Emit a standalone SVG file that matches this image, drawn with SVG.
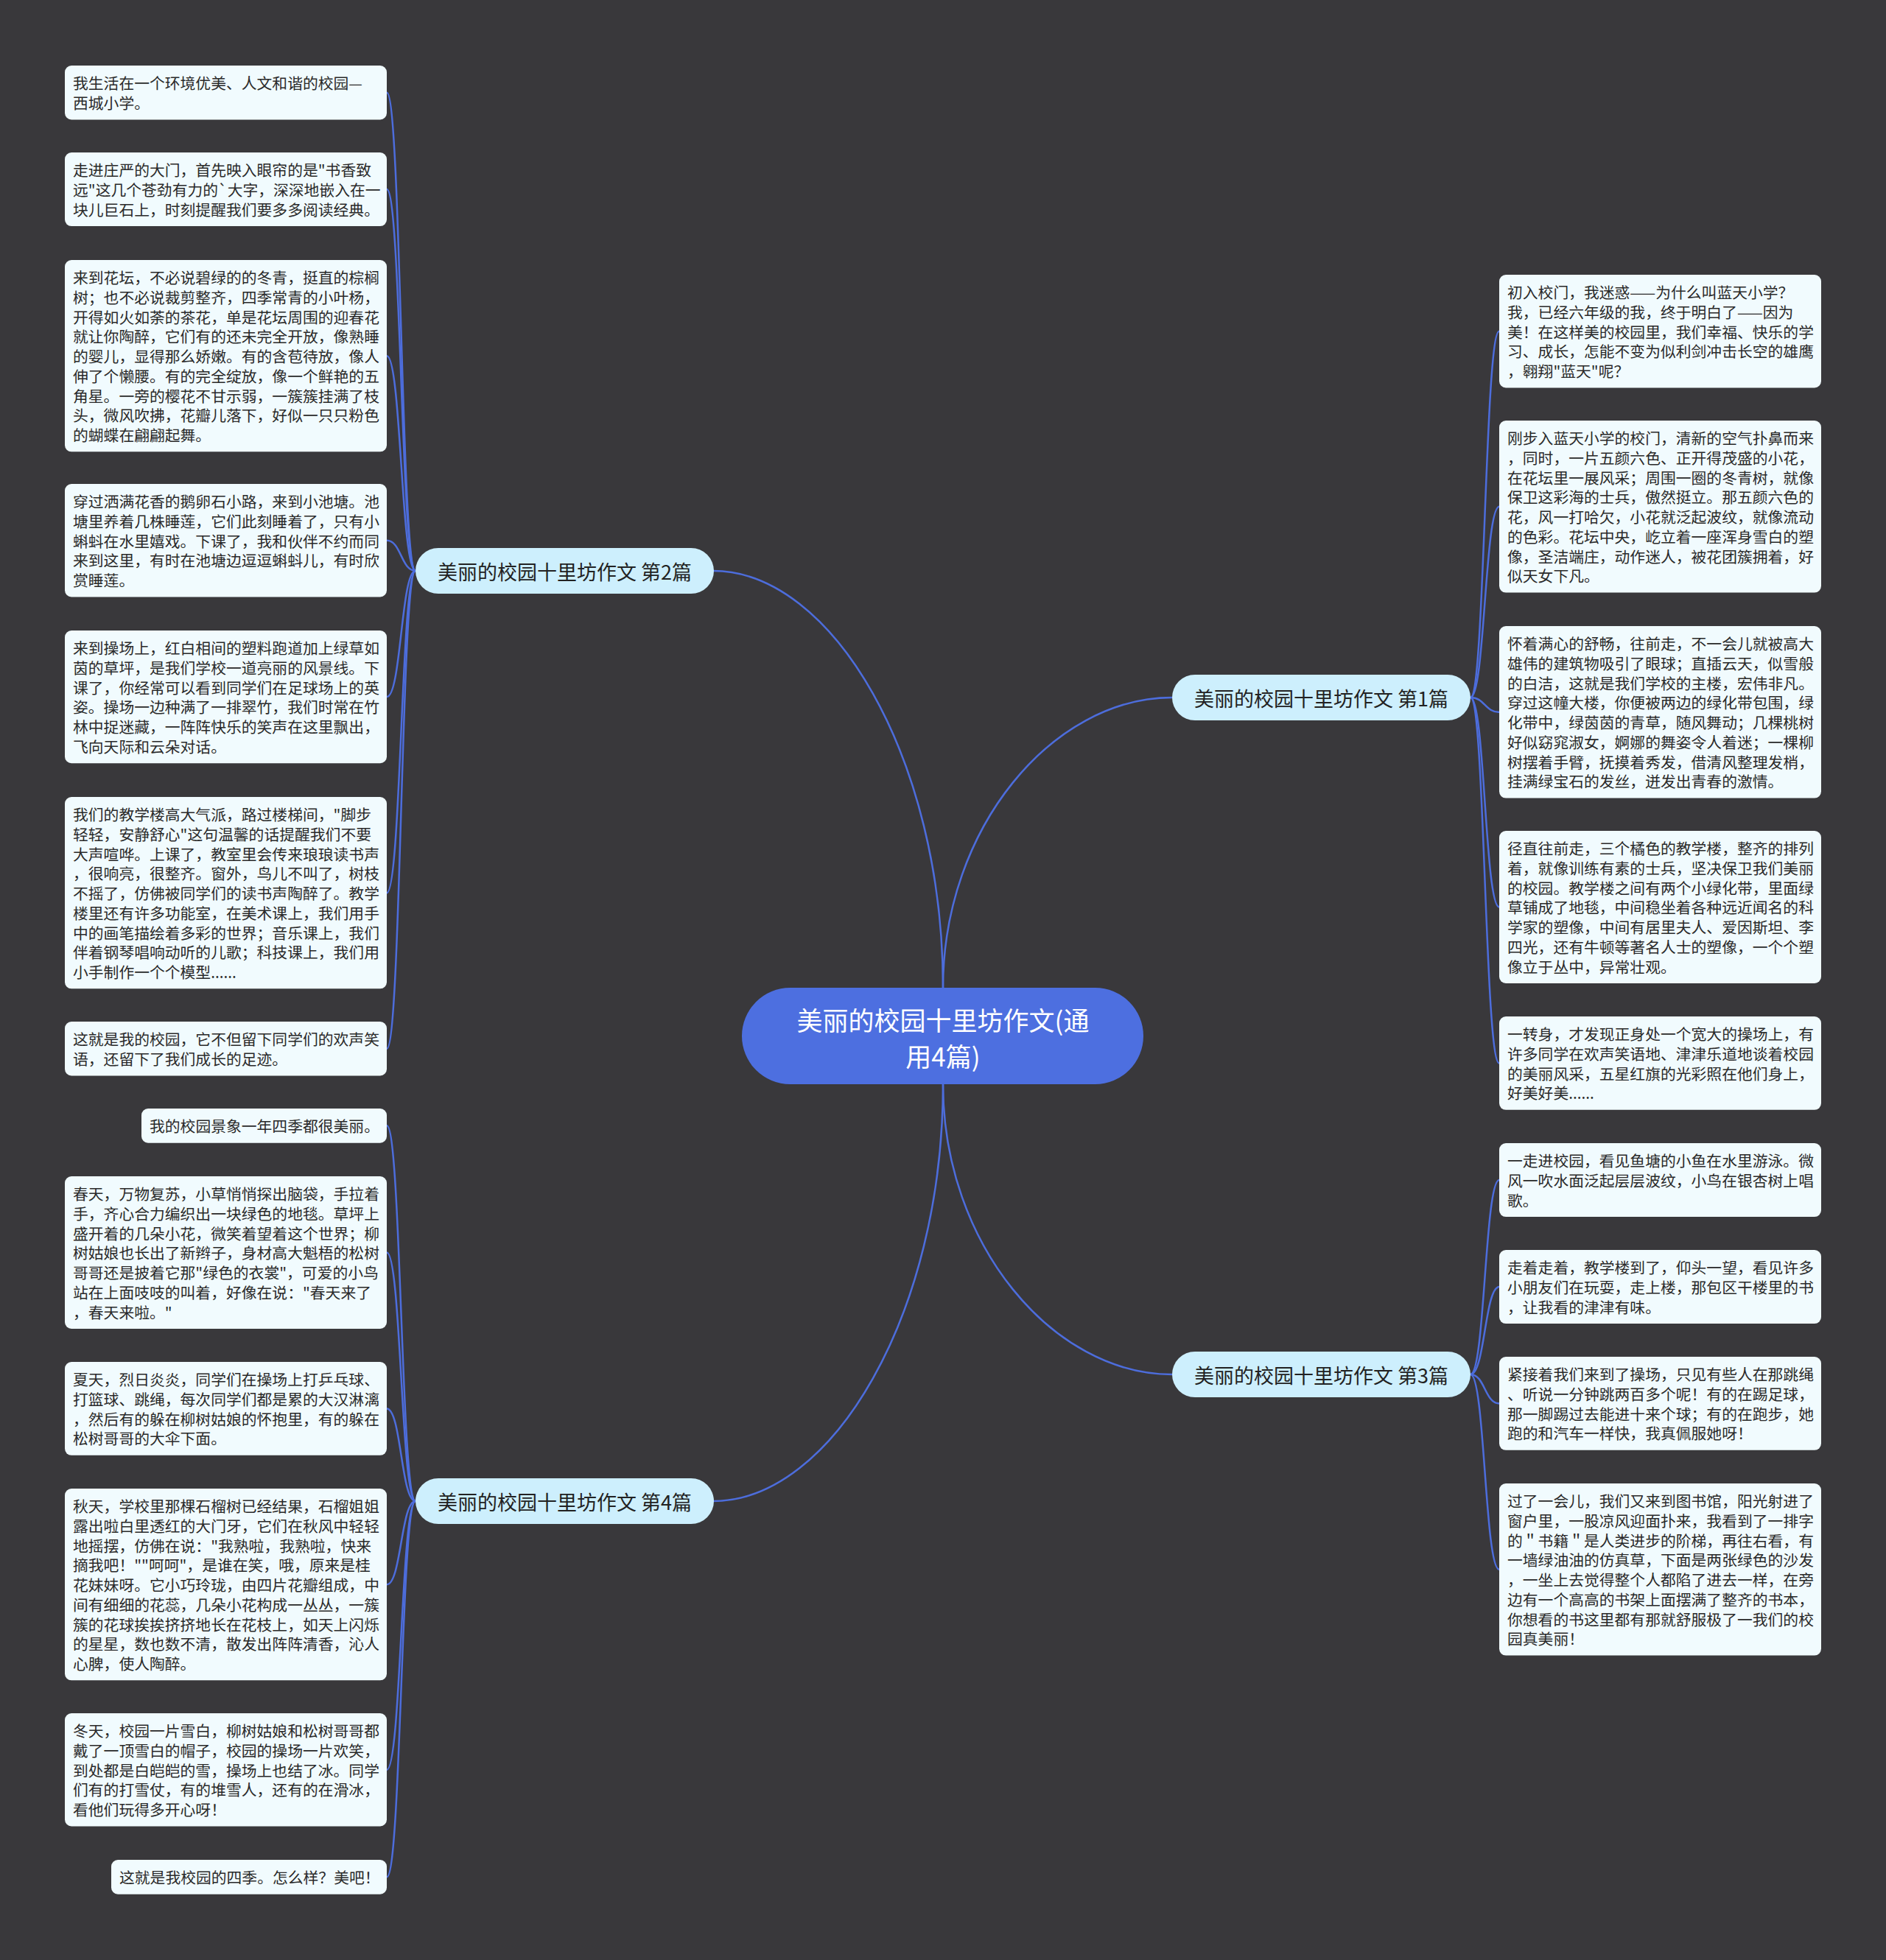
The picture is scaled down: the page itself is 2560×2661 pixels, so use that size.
<svg xmlns="http://www.w3.org/2000/svg" width="2560" height="2661" viewBox="0 0 2560 2661">
<style>
.bg{fill:#39383b}
.c{fill:none;stroke:#4d6ddc;stroke-width:2.5}
.leaf{fill:#f1fbfe}
.br{fill:#cdeffd}
.ctr{fill:#4d6fe0}
text,tspan{dominant-baseline:central;font-family:"Noto Sans CJK SC","Noto Sans",sans-serif}
.lt{font-size:20.8px;fill:#2a2a2a}
.bt{font-size:27px;fill:#222;text-anchor:middle}
.ct{font-size:35px;fill:#ffffff;text-anchor:middle}
</style>
<rect class="bg" x="0" y="0" width="2560" height="2661"/>
<g id="connectors">
<path class="c" d="M968 775 C1130 775 1280 1030 1280 1341"/>
<path class="c" d="M1591 947 C1429 947 1280 1124 1280 1341"/>
<path class="c" d="M1280 1472 C1280 1689 1429 1866 1591 1866"/>
<path class="c" d="M1280 1472 C1280 1783 1130 2038 968 2038"/>
<path class="c" d="M564 775 C544.5 775 544.5 125.7 525 125.7"/>
<path class="c" d="M564 775 C544.5 775 544.5 257.05 525 257.05"/>
<path class="c" d="M564 775 C544.5 775 544.5 483.15 525 483.15"/>
<path class="c" d="M564 775 C544.5 775 544.5 733.75 525 733.75"/>
<path class="c" d="M564 775 C544.5 775 544.5 946.1 525 946.1"/>
<path class="c" d="M564 775 C544.5 775 544.5 1212.15 525 1212.15"/>
<path class="c" d="M564 775 C544.5 775 544.5 1423.7 525 1423.7"/>
<path class="c" d="M564 2038 C544.5 2038 544.5 1528.35 525 1528.35"/>
<path class="c" d="M564 2038 C544.5 2038 544.5 1700.45 525 1700.45"/>
<path class="c" d="M564 2038 C544.5 2038 544.5 1912.4 525 1912.4"/>
<path class="c" d="M564 2038 C544.5 2038 544.5 2151.15 525 2151.15"/>
<path class="c" d="M564 2038 C544.5 2038 544.5 2402.75 525 2402.75"/>
<path class="c" d="M564 2038 C544.5 2038 544.5 2548.35 525 2548.35"/>
<path class="c" d="M1996 947 C2015.5 947 2015.5 449.75 2035 449.75"/>
<path class="c" d="M1996 947 C2015.5 947 2015.5 687.8 2035 687.8"/>
<path class="c" d="M1996 947 C2015.5 947 2015.5 966.8 2035 966.8"/>
<path class="c" d="M1996 947 C2015.5 947 2015.5 1231.45 2035 1231.45"/>
<path class="c" d="M1996 947 C2015.5 947 2015.5 1443.4 2035 1443.4"/>
<path class="c" d="M1996 1866 C2015.5 1866 2015.5 1602.05 2035 1602.05"/>
<path class="c" d="M1996 1866 C2015.5 1866 2015.5 1747.05 2035 1747.05"/>
<path class="c" d="M1996 1866 C2015.5 1866 2015.5 1905.4 2035 1905.4"/>
<path class="c" d="M1996 1866 C2015.5 1866 2015.5 2130.8 2035 2130.8"/>
</g>
<g id="center">
<rect class="ctr" x="1007" y="1341" width="545" height="131" rx="65.5"/>
<text class="ct"><tspan x="1280" y="1382.5">美丽的校园十里坊作文(通</tspan><tspan x="1280" y="1431.5">用4篇)</tspan></text>
</g>
<g id="b1"><rect class="br" x="1591" y="916" width="405" height="62" rx="31"/><text class="bt" x="1793.5" y="947">美丽的校园十里坊作文 第1篇</text></g>
<g id="b2"><rect class="br" x="564" y="744" width="405" height="62" rx="31"/><text class="bt" x="766.5" y="775">美丽的校园十里坊作文 第2篇</text></g>
<g id="b3"><rect class="br" x="1591" y="1835" width="405" height="62" rx="31"/><text class="bt" x="1793.5" y="1866">美丽的校园十里坊作文 第3篇</text></g>
<g id="b4"><rect class="br" x="564" y="2007" width="405" height="62" rx="31"/><text class="bt" x="766.5" y="2038">美丽的校园十里坊作文 第4篇</text></g>
<g id="l1"><rect class="leaf" x="88" y="89" width="437" height="73.4" rx="9"/><text class="lt"><tspan x="99" y="112.35">我生活在一个环境优美、人文和谐的校园—</tspan><tspan x="99" y="139.05">西城小学。</tspan></text></g>
<g id="l2"><rect class="leaf" x="88" y="207" width="437" height="100.1" rx="9"/><text class="lt"><tspan x="99" y="230.35">走进庄严的大门，首先映入眼帘的是"书香致</tspan><tspan x="99" y="257.05">远"这几个苍劲有力的`大字，深深地嵌入在一</tspan><tspan x="99" y="283.75">块儿巨石上，时刻提醒我们要多多阅读经典。</tspan></text></g>
<g id="l3"><rect class="leaf" x="88" y="353" width="437" height="260.3" rx="9"/><text class="lt"><tspan x="99" y="376.35">来到花坛，不必说碧绿的的冬青，挺直的棕榈</tspan><tspan x="99" y="403.05">树；也不必说裁剪整齐，四季常青的小叶杨，</tspan><tspan x="99" y="429.75">开得如火如荼的茶花，单是花坛周围的迎春花</tspan><tspan x="99" y="456.45">就让你陶醉，它们有的还未完全开放，像熟睡</tspan><tspan x="99" y="483.15">的婴儿，显得那么娇嫩。有的含苞待放，像人</tspan><tspan x="99" y="509.85">伸了个懒腰。有的完全绽放，像一个鲜艳的五</tspan><tspan x="99" y="536.55">角星。一旁的樱花不甘示弱，一簇簇挂满了枝</tspan><tspan x="99" y="563.25">头，微风吹拂，花瓣儿落下，好似一只只粉色</tspan><tspan x="99" y="589.95">的蝴蝶在翩翩起舞。</tspan></text></g>
<g id="l4"><rect class="leaf" x="88" y="657" width="437" height="153.5" rx="9"/><text class="lt"><tspan x="99" y="680.35">穿过洒满花香的鹅卵石小路，来到小池塘。池</tspan><tspan x="99" y="707.05">塘里养着几株睡莲，它们此刻睡着了，只有小</tspan><tspan x="99" y="733.75">蝌蚪在水里嬉戏。下课了，我和伙伴不约而同</tspan><tspan x="99" y="760.45">来到这里，有时在池塘边逗逗蝌蚪儿，有时欣</tspan><tspan x="99" y="787.15">赏睡莲。</tspan></text></g>
<g id="l5"><rect class="leaf" x="88" y="856" width="437" height="180.2" rx="9"/><text class="lt"><tspan x="99" y="879.35">来到操场上，红白相间的塑料跑道加上绿草如</tspan><tspan x="99" y="906.05">茵的草坪，是我们学校一道亮丽的风景线。下</tspan><tspan x="99" y="932.75">课了，你经常可以看到同学们在足球场上的英</tspan><tspan x="99" y="959.45">姿。操场一边种满了一排翠竹，我们时常在竹</tspan><tspan x="99" y="986.15">林中捉迷藏，一阵阵快乐的笑声在这里飘出，</tspan><tspan x="99" y="1012.85">飞向天际和云朵对话。</tspan></text></g>
<g id="l6"><rect class="leaf" x="88" y="1082" width="437" height="260.3" rx="9"/><text class="lt"><tspan x="99" y="1105.35">我们的教学楼高大气派，路过楼梯间，"脚步</tspan><tspan x="99" y="1132.05">轻轻，安静舒心"这句温馨的话提醒我们不要</tspan><tspan x="99" y="1158.75">大声喧哗。上课了，教室里会传来琅琅读书声</tspan><tspan x="99" y="1185.45">，很响亮，很整齐。窗外，鸟儿不叫了，树枝</tspan><tspan x="99" y="1212.15">不摇了，仿佛被同学们的读书声陶醉了。教学</tspan><tspan x="99" y="1238.85">楼里还有许多功能室，在美术课上，我们用手</tspan><tspan x="99" y="1265.55">中的画笔描绘着多彩的世界；音乐课上，我们</tspan><tspan x="99" y="1292.25">伴着钢琴唱响动听的儿歌；科技课上，我们用</tspan><tspan x="99" y="1318.95">小手制作一个个模型......</tspan></text></g>
<g id="l7"><rect class="leaf" x="88" y="1387" width="437" height="73.4" rx="9"/><text class="lt"><tspan x="99" y="1410.35">这就是我的校园，它不但留下同学们的欢声笑</tspan><tspan x="99" y="1437.05">语，还留下了我们成长的足迹。</tspan></text></g>
<g id="l8"><rect class="leaf" x="192" y="1505" width="333" height="46.7" rx="9"/><text class="lt"><tspan x="203" y="1528.35">我的校园景象一年四季都很美丽。</tspan></text></g>
<g id="l9"><rect class="leaf" x="88" y="1597" width="437" height="206.9" rx="9"/><text class="lt"><tspan x="99" y="1620.35">春天，万物复苏，小草悄悄探出脑袋，手拉着</tspan><tspan x="99" y="1647.05">手，齐心合力编织出一块绿色的地毯。草坪上</tspan><tspan x="99" y="1673.75">盛开着的几朵小花，微笑着望着这个世界；柳</tspan><tspan x="99" y="1700.45">树姑娘也长出了新辫子，身材高大魁梧的松树</tspan><tspan x="99" y="1727.15">哥哥还是披着它那"绿色的衣裳"，可爱的小鸟</tspan><tspan x="99" y="1753.85">站在上面吱吱的叫着，好像在说："春天来了</tspan><tspan x="99" y="1780.55">，春天来啦。"</tspan></text></g>
<g id="l10"><rect class="leaf" x="88" y="1849" width="437" height="126.8" rx="9"/><text class="lt"><tspan x="99" y="1872.35">夏天，烈日炎炎，同学们在操场上打乒乓球、</tspan><tspan x="99" y="1899.05">打篮球、跳绳，每次同学们都是累的大汉淋漓</tspan><tspan x="99" y="1925.75">，然后有的躲在柳树姑娘的怀抱里，有的躲在</tspan><tspan x="99" y="1952.45">松树哥哥的大伞下面。</tspan></text></g>
<g id="l11"><rect class="leaf" x="88" y="2021" width="437" height="260.3" rx="9"/><text class="lt"><tspan x="99" y="2044.35">秋天，学校里那棵石榴树已经结果，石榴姐姐</tspan><tspan x="99" y="2071.05">露出啦白里透红的大门牙，它们在秋风中轻轻</tspan><tspan x="99" y="2097.75">地摇摆，仿佛在说："我熟啦，我熟啦，快来</tspan><tspan x="99" y="2124.45">摘我吧！""呵呵"，是谁在笑，哦，原来是桂</tspan><tspan x="99" y="2151.15">花妹妹呀。它小巧玲珑，由四片花瓣组成，中</tspan><tspan x="99" y="2177.85">间有细细的花蕊，几朵小花构成一丛丛，一簇</tspan><tspan x="99" y="2204.55">簇的花球挨挨挤挤地长在花枝上，如天上闪烁</tspan><tspan x="99" y="2231.25">的星星，数也数不清，散发出阵阵清香，沁人</tspan><tspan x="99" y="2257.95">心脾，使人陶醉。</tspan></text></g>
<g id="l12"><rect class="leaf" x="88" y="2326" width="437" height="153.5" rx="9"/><text class="lt"><tspan x="99" y="2349.35">冬天，校园一片雪白，柳树姑娘和松树哥哥都</tspan><tspan x="99" y="2376.05">戴了一顶雪白的帽子，校园的操场一片欢笑，</tspan><tspan x="99" y="2402.75">到处都是白皑皑的雪，操场上也结了冰。同学</tspan><tspan x="99" y="2429.45">们有的打雪仗，有的堆雪人，还有的在滑冰，</tspan><tspan x="99" y="2456.15">看他们玩得多开心呀！</tspan></text></g>
<g id="l13"><rect class="leaf" x="151" y="2525" width="374" height="46.7" rx="9"/><text class="lt"><tspan x="162" y="2548.35">这就是我校园的四季。怎么样？美吧！</tspan></text></g>
<g id="r1"><rect class="leaf" x="2035" y="373" width="437" height="153.5" rx="9"/><text class="lt"><tspan x="2046" y="396.35">初入校门，我迷惑——为什么叫蓝天小学？</tspan><tspan x="2046" y="423.05">我，已经六年级的我，终于明白了——因为</tspan><tspan x="2046" y="449.75">美！在这样美的校园里，我们幸福、快乐的学</tspan><tspan x="2046" y="476.45">习、成长，怎能不变为似利剑冲击长空的雄鹰</tspan><tspan x="2046" y="503.15">，翱翔"蓝天"呢？</tspan></text></g>
<g id="r2"><rect class="leaf" x="2035" y="571" width="437" height="233.6" rx="9"/><text class="lt"><tspan x="2046" y="594.35">刚步入蓝天小学的校门，清新的空气扑鼻而来</tspan><tspan x="2046" y="621.05">，同时，一片五颜六色、正开得茂盛的小花，</tspan><tspan x="2046" y="647.75">在花坛里一展风采；周围一圈的冬青树，就像</tspan><tspan x="2046" y="674.45">保卫这彩海的士兵，傲然挺立。那五颜六色的</tspan><tspan x="2046" y="701.15">花，风一打哈欠，小花就泛起波纹，就像流动</tspan><tspan x="2046" y="727.85">的色彩。花坛中央，屹立着一座浑身雪白的塑</tspan><tspan x="2046" y="754.55">像，圣洁端庄，动作迷人，被花团簇拥着，好</tspan><tspan x="2046" y="781.25">似天女下凡。</tspan></text></g>
<g id="r3"><rect class="leaf" x="2035" y="850" width="437" height="233.6" rx="9"/><text class="lt"><tspan x="2046" y="873.35">怀着满心的舒畅，往前走，不一会儿就被高大</tspan><tspan x="2046" y="900.05">雄伟的建筑物吸引了眼球；直插云天，似雪般</tspan><tspan x="2046" y="926.75">的白洁，这就是我们学校的主楼，宏伟非凡。</tspan><tspan x="2046" y="953.45">穿过这幢大楼，你便被两边的绿化带包围，绿</tspan><tspan x="2046" y="980.15">化带中，绿茵茵的青草，随风舞动；几棵桃树</tspan><tspan x="2046" y="1006.85">好似窈窕淑女，婀娜的舞姿令人着迷；一棵柳</tspan><tspan x="2046" y="1033.55">树摆着手臂，抚摸着秀发，借清风整理发梢，</tspan><tspan x="2046" y="1060.25">挂满绿宝石的发丝，迸发出青春的激情。</tspan></text></g>
<g id="r4"><rect class="leaf" x="2035" y="1128" width="437" height="206.9" rx="9"/><text class="lt"><tspan x="2046" y="1151.35">径直往前走，三个橘色的教学楼，整齐的排列</tspan><tspan x="2046" y="1178.05">着，就像训练有素的士兵，坚决保卫我们美丽</tspan><tspan x="2046" y="1204.75">的校园。教学楼之间有两个小绿化带，里面绿</tspan><tspan x="2046" y="1231.45">草铺成了地毯，中间稳坐着各种远近闻名的科</tspan><tspan x="2046" y="1258.15">学家的塑像，中间有居里夫人、爱因斯坦、李</tspan><tspan x="2046" y="1284.85">四光，还有牛顿等著名人士的塑像，一个个塑</tspan><tspan x="2046" y="1311.55">像立于丛中，异常壮观。</tspan></text></g>
<g id="r5"><rect class="leaf" x="2035" y="1380" width="437" height="126.8" rx="9"/><text class="lt"><tspan x="2046" y="1403.35">一转身，才发现正身处一个宽大的操场上，有</tspan><tspan x="2046" y="1430.05">许多同学在欢声笑语地、津津乐道地谈着校园</tspan><tspan x="2046" y="1456.75">的美丽风采，五星红旗的光彩照在他们身上，</tspan><tspan x="2046" y="1483.45">好美好美......</tspan></text></g>
<g id="r6"><rect class="leaf" x="2035" y="1552" width="437" height="100.1" rx="9"/><text class="lt"><tspan x="2046" y="1575.35">一走进校园，看见鱼塘的小鱼在水里游泳。微</tspan><tspan x="2046" y="1602.05">风一吹水面泛起层层波纹，小鸟在银杏树上唱</tspan><tspan x="2046" y="1628.75">歌。</tspan></text></g>
<g id="r7"><rect class="leaf" x="2035" y="1697" width="437" height="100.1" rx="9"/><text class="lt"><tspan x="2046" y="1720.35">走着走着，教学楼到了，仰头一望，看见许多</tspan><tspan x="2046" y="1747.05">小朋友们在玩耍，走上楼，那包区干楼里的书</tspan><tspan x="2046" y="1773.75">，让我看的津津有味。</tspan></text></g>
<g id="r8"><rect class="leaf" x="2035" y="1842" width="437" height="126.8" rx="9"/><text class="lt"><tspan x="2046" y="1865.35">紧接着我们来到了操场，只见有些人在那跳绳</tspan><tspan x="2046" y="1892.05">、听说一分钟跳两百多个呢！有的在踢足球，</tspan><tspan x="2046" y="1918.75">那一脚踢过去能进十来个球；有的在跑步，她</tspan><tspan x="2046" y="1945.45">跑的和汽车一样快，我真佩服她呀！</tspan></text></g>
<g id="r9"><rect class="leaf" x="2035" y="2014" width="437" height="233.6" rx="9"/><text class="lt"><tspan x="2046" y="2037.35">过了一会儿，我们又来到图书馆，阳光射进了</tspan><tspan x="2046" y="2064.05">窗户里，一股凉风迎面扑来，我看到了一排字</tspan><tspan x="2046" y="2090.75">的＂书籍＂是人类进步的阶梯，再往右看，有</tspan><tspan x="2046" y="2117.45">一墙绿油油的仿真草，下面是两张绿色的沙发</tspan><tspan x="2046" y="2144.15">，一坐上去觉得整个人都陷了进去一样，在旁</tspan><tspan x="2046" y="2170.85">边有一个高高的书架上面摆满了整齐的书本，</tspan><tspan x="2046" y="2197.55">你想看的书这里都有那就舒服极了一我们的校</tspan><tspan x="2046" y="2224.25">园真美丽！</tspan></text></g>
</svg>
